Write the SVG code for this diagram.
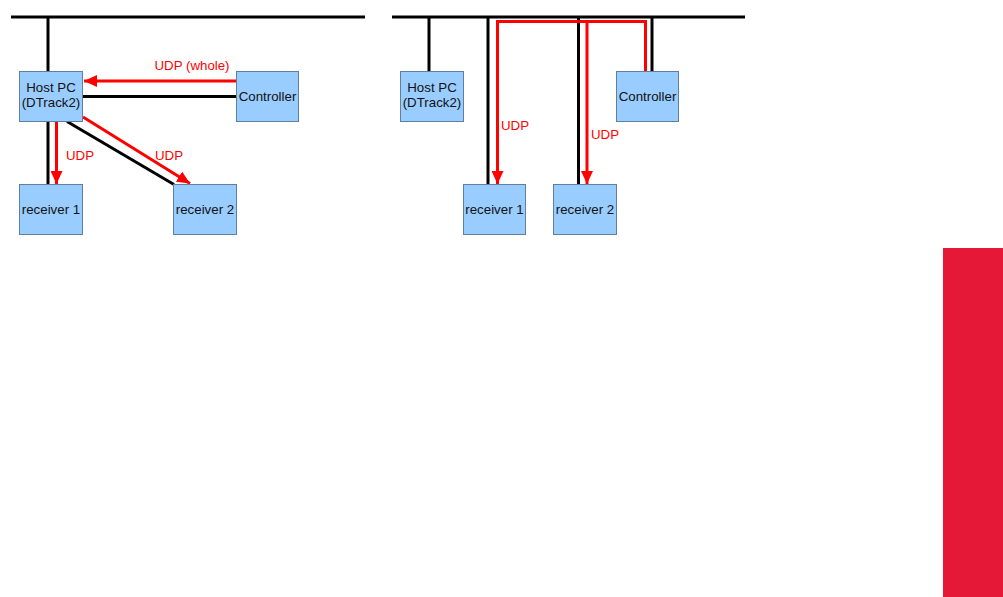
<svg xmlns="http://www.w3.org/2000/svg" width="1003" height="597" viewBox="0 0 1003 597">
<style>
.box{fill:#99ccff;stroke:#5f7f9f;stroke-width:1}
.t{font-family:"Liberation Sans",Arial,sans-serif;font-size:13.3px;fill:#111;text-anchor:middle}
.lbl{font-family:"Liberation Sans",Arial,sans-serif;font-size:13.3px;fill:#ff0000}
.blk{stroke:#000;stroke-width:3;fill:none}
.red{stroke:#ff0000;stroke-width:3;fill:none}
</style>
<defs>
<marker id="ah" markerUnits="userSpaceOnUse" markerWidth="14" markerHeight="12" refX="13" refY="6" orient="auto">
<path d="M0,0 L13,6 L0,12 Z" fill="#ff0000"/>
</marker>
</defs>
<rect width="1003" height="597" fill="#ffffff"/>
<g id="connectors">
<line class="blk" x1="11" y1="17" x2="365" y2="17"/>
<line class="blk" x1="48" y1="17" x2="48" y2="71"/>
<line class="blk" x1="83" y1="96.5" x2="236" y2="96.5"/>
<line class="blk" x1="48" y1="121" x2="48" y2="184"/>
<line class="blk" x1="67" y1="121.5" x2="174" y2="184.5"/>
<line class="red" x1="236" y1="81" x2="84" y2="81" marker-end="url(#ah)"/>
<line class="red" x1="56.5" y1="121" x2="56.5" y2="184" marker-end="url(#ah)"/>
<line class="red" x1="83" y1="117" x2="190" y2="183.5" marker-end="url(#ah)"/>
<line class="blk" x1="392" y1="17" x2="745" y2="17"/>
<line class="blk" x1="429" y1="17" x2="429" y2="71"/>
<line class="blk" x1="652" y1="17" x2="652" y2="71"/>
<line class="blk" x1="488" y1="17" x2="488" y2="184"/>
<line class="blk" x1="578.5" y1="17" x2="578.5" y2="184"/>
<path class="red" d="M645.5,71 V21.5 H497.5 V184" marker-end="url(#ah)"/>
<line class="red" x1="587" y1="21.5" x2="587" y2="184" marker-end="url(#ah)"/>
</g>
<g id="labels">
<text class="lbl" x="192" y="70" text-anchor="middle">UDP (whole)</text>
<text class="lbl" x="66" y="160">UDP</text>
<text class="lbl" x="155" y="160">UDP</text>
<text class="lbl" x="501" y="130">UDP</text>
<text class="lbl" x="591" y="139">UDP</text>
</g>
<g id="hostpc1"><rect class="box" x="19.5" y="71.5" width="63" height="50"/><text class="t" x="51" y="92">Host PC</text><text class="t" x="51" y="107">(DTrack2)</text></g>
<g id="controller1"><rect class="box" x="236.5" y="71.5" width="62" height="50"/><text class="t" x="267.5" y="101">Controller</text></g>
<g id="receiver1a"><rect class="box" x="19.5" y="184.5" width="63" height="50"/><text class="t" x="51" y="214">receiver 1</text></g>
<g id="receiver2a"><rect class="box" x="173.5" y="184.5" width="63" height="50"/><text class="t" x="205" y="214">receiver 2</text></g>
<g id="hostpc2"><rect class="box" x="400.5" y="71.5" width="63" height="50"/><text class="t" x="432" y="92">Host PC</text><text class="t" x="432" y="107">(DTrack2)</text></g>
<g id="controller2"><rect class="box" x="616.5" y="71.5" width="62" height="50"/><text class="t" x="647.5" y="101">Controller</text></g>
<g id="receiver1b"><rect class="box" x="463.5" y="184.5" width="62" height="50"/><text class="t" x="494.5" y="214">receiver 1</text></g>
<g id="receiver2b"><rect class="box" x="553.5" y="184.5" width="63" height="50"/><text class="t" x="585" y="214">receiver 2</text></g>
<rect id="sidebar" x="943" y="248" width="60" height="349" fill="#e51937"/>
</svg>
